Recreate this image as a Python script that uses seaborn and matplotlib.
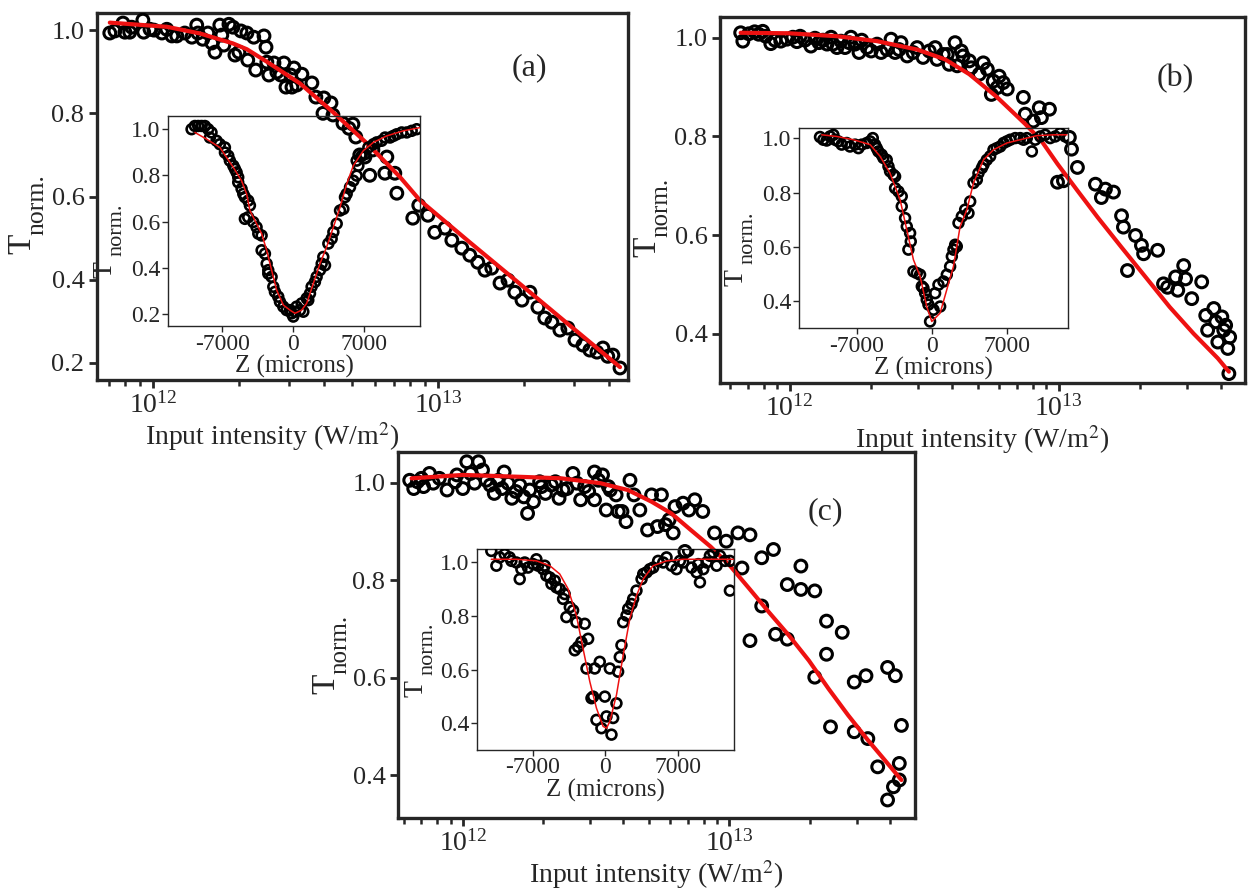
import numpy as np
import pandas as pd
import seaborn as sns
import matplotlib.pyplot as plt
from matplotlib.ticker import LogLocator, NullFormatter, FixedLocator

# ---- data (intensity as log10 of W/m^2) ----
# panel (a)
a_log_int = [11.849, 11.867, 11.895, 11.902, 11.919, 11.926, 11.965, 11.968, 11.990, 12.004,
             12.032, 12.049, 12.067, 12.084, 12.112, 12.137, 12.154, 12.158, 12.175, 12.193,
             12.207, 12.218, 12.235, 12.242, 12.249, 12.267, 12.281, 12.288, 12.302, 12.309,
             12.330, 12.333, 12.354, 12.361, 12.390, 12.397, 12.400, 12.407, 12.425, 12.435,
             12.449, 12.460, 12.467, 12.484, 12.488, 12.495, 12.505, 12.523, 12.558, 12.572,
             12.597, 12.600, 12.625, 12.632, 12.667, 12.688, 12.702, 12.712, 12.726, 12.744,
             12.761, 12.772, 12.814, 12.821, 12.849, 12.856, 12.912, 12.933, 12.965, 12.989,
             13.025, 13.049, 13.084, 13.112, 13.140, 13.165, 13.189, 13.218, 13.246, 13.270,
             13.295, 13.323, 13.351, 13.375, 13.400, 13.428, 13.456, 13.481, 13.509, 13.533,
             13.558, 13.579, 13.596, 13.614, 13.639]
a_trans = [0.993, 0.998, 1.017, 0.995, 0.995, 1.007, 1.024, 0.995, 1.002, 1.000,
           0.993, 1.002, 0.986, 0.986, 0.993, 0.983, 1.012, 0.993, 0.978, 0.993,
           0.969, 0.947, 1.012, 0.988, 0.964, 1.014, 1.007, 0.940, 0.947, 0.998,
           0.993, 0.928, 0.983, 0.904, 0.986, 0.959, 0.923, 0.892, 0.921, 0.899,
           0.892, 0.921, 0.863, 0.892, 0.863, 0.909, 0.868, 0.894, 0.873, 0.839,
           0.800, 0.837, 0.825, 0.796, 0.776, 0.764, 0.774, 0.743, 0.700, 0.695,
           0.651, 0.712, 0.656, 0.695, 0.656, 0.608, 0.548, 0.579, 0.555, 0.514,
           0.524, 0.495, 0.476, 0.459, 0.442, 0.423, 0.428, 0.392, 0.399, 0.370,
           0.351, 0.370, 0.334, 0.308, 0.298, 0.279, 0.284, 0.255, 0.243, 0.231,
           0.226, 0.236, 0.216, 0.219, 0.188]
a_fit_log_int = [11.849, 12.049, 12.165, 12.281, 12.330, 12.400, 12.516, 12.632, 12.751,
                 12.867, 12.937, 13.112, 13.288, 13.463, 13.639]
a_fit_trans = [1.018, 1.008, 0.992, 0.968, 0.954, 0.924, 0.872, 0.803, 0.728,
               0.647, 0.591, 0.490, 0.390, 0.290, 0.190]

a_z = [-10060, -9730, -9400, -9070, -8740, -8410, -8080, -8240, -7580, -7250,
       -6750, -6750, -6420, -6260, -5920, -5760, -5590, -5430, -5430, -5100,
       -4930, -4770, -4440, -4270, -4770, -4440, -3940, -3610, -3440, -3110,
       -3110, -2780, -2610, -2450, -2450, -2120, -1950, -1790, -1460, -1290,
       -960, -630, -300, -130, 30, 200, 360, 700, 860, 1030,
       1360, 1520, 1690, 1850, 2180, 2350, 2680, 2850, 3010, 3180,
       3510, 3840, 4010, 4340, 4670, 5000, 5160, 5330, 5660, 5990,
       6320, 6320, 6490, 6820, 7150, 7480, 7980, 8310, 8800, 9140,
       9630, 9960, 10290, 10790, 11290, 11780, 12280]
a_z_trans = [1.000, 1.014, 1.014, 1.014, 1.014, 1.000, 0.986, 0.964, 0.950, 0.935,
             0.921, 0.899, 0.885, 0.864, 0.842, 0.828, 0.813, 0.792, 0.770, 0.742,
             0.720, 0.706, 0.691, 0.670, 0.612, 0.619, 0.598, 0.576, 0.548, 0.540,
             0.476, 0.461, 0.418, 0.390, 0.375, 0.361, 0.318, 0.296, 0.275, 0.253,
             0.232, 0.217, 0.217, 0.203, 0.189, 0.210, 0.232, 0.217, 0.246, 0.210,
             0.268, 0.260, 0.289, 0.318, 0.339, 0.361, 0.390, 0.418, 0.447, 0.411,
             0.505, 0.526, 0.555, 0.591, 0.648, 0.655, 0.706, 0.720, 0.749, 0.777,
             0.799, 0.864, 0.842, 0.885, 0.892, 0.921, 0.935, 0.943, 0.950, 0.964,
             0.964, 0.971, 0.978, 0.986, 0.986, 0.993, 1.000]
a_z_fit = [-9730, -8570, -7250, -6590, -5920, -5100, -4600, -4270, -3610, -3110,
           -2610, -2120, -1620, -960, -300, 200, 860, 1360, 2020, 2680,
           3340, 4010, 4670, 5330, 5990, 6980, 7980, 9300, 10960, 12610]
a_z_fit_trans = [0.986, 0.957, 0.921, 0.878, 0.835, 0.777, 0.720, 0.648, 0.591, 0.548,
                 0.476, 0.390, 0.304, 0.239, 0.217, 0.203, 0.217, 0.246, 0.332, 0.418,
                 0.490, 0.576, 0.662, 0.763, 0.842, 0.907, 0.943, 0.971, 0.993, 1.007]

# panel (b)
b_log_int = [11.818, 11.826, 11.848, 11.870, 11.885, 11.900, 11.911, 11.930, 11.945, 11.967,
             11.990, 12.012, 12.027, 12.039, 12.057, 12.079, 12.094, 12.109, 12.124, 12.139,
             12.154, 12.161, 12.176, 12.191, 12.206, 12.221, 12.228, 12.243, 12.258, 12.268,
             12.288, 12.303, 12.325, 12.340, 12.362, 12.377, 12.392, 12.407, 12.414, 12.437,
             12.459, 12.474, 12.496, 12.519, 12.541, 12.548, 12.571, 12.586, 12.593, 12.615,
             12.623, 12.638, 12.645, 12.668, 12.675, 12.705, 12.720, 12.735, 12.750, 12.757,
             12.772, 12.779, 12.794, 12.809, 12.869, 12.876, 12.906, 12.928, 12.936, 12.966,
             12.996, 13.018, 13.040, 13.048, 13.070, 13.137, 13.159, 13.174, 13.204, 13.234,
             13.241, 13.256, 13.286, 13.308, 13.316, 13.368, 13.390, 13.405, 13.435, 13.443,
             13.465, 13.472, 13.495, 13.532, 13.547, 13.554, 13.577, 13.584, 13.592, 13.607,
             13.614, 13.621, 13.629, 13.636, 13.633]
b_trans = [1.010, 0.993, 1.008, 1.012, 1.007, 1.013, 1.003, 0.988, 0.995, 0.993,
           0.997, 1.001, 0.992, 1.003, 0.995, 0.983, 0.999, 0.990, 0.995, 0.987,
           1.001, 0.987, 0.980, 0.993, 0.980, 0.990, 1.001, 0.987, 0.970, 0.995,
           0.980, 0.973, 0.987, 0.970, 0.976, 0.997, 0.970, 0.976, 0.990, 0.963,
           0.970, 0.980, 0.960, 0.973, 0.980, 0.956, 0.966, 0.966, 0.946, 0.990,
           0.943, 0.973, 0.963, 0.953, 0.939, 0.926, 0.949, 0.936, 0.885, 0.912,
           0.899, 0.922, 0.909, 0.896, 0.879, 0.845, 0.831, 0.858, 0.838, 0.855,
           0.707, 0.710, 0.798, 0.774, 0.737, 0.703, 0.676, 0.693, 0.687, 0.639,
           0.616, 0.528, 0.599, 0.579, 0.562, 0.569, 0.501, 0.494, 0.515, 0.488,
           0.538, 0.511, 0.471, 0.505, 0.437, 0.407, 0.451, 0.424, 0.383, 0.434,
           0.407, 0.417, 0.370, 0.393, 0.319]
b_fit_log_int = [11.818, 11.997, 12.176, 12.325, 12.474, 12.578, 12.668, 12.772, 12.876,
                 12.936, 12.996, 13.070, 13.145, 13.234, 13.323, 13.413, 13.502, 13.592, 13.633]
b_fit_trans = [1.010, 1.009, 1.003, 0.993, 0.976, 0.956, 0.926, 0.879, 0.825,
               0.791, 0.744, 0.690, 0.636, 0.575, 0.515, 0.454, 0.400, 0.350, 0.323]

b_z = [-10420, -10110, -9800, -9490, -9170, -9020, -8710, -8400, -7930, -7620,
       -7150, -6840, -6530, -6060, -5750, -5500, -5290, -5130, -4980, -4670,
       -4510, -4200, -4040, -3890, -3580, -3420, -3420, -3110, -2800, -2800,
       -2490, -2330, -2020, -1960, -2180, -1710, -1400, -1090, -930, -780,
       -620, -470, -310, -160, 160, 310, 620, 780, 1090, 1400,
       1710, 1870, 2020, 2180, 2330, 2490, 2800, 3110, 3420, 3580,
       3890, 4200, 4350, 4670, 4820, 5130, 5440, 5750, 6060, 6380,
       6690, 7000, 7310, 7780, 8240, 8550, 8860, 9330, 9640, 10110,
       10570, 11040, 11510, 11970, 12440]
b_z_trans = [1.004, 0.994, 0.991, 1.006, 1.012, 0.994, 0.988, 0.976, 0.982, 0.969,
             0.976, 0.963, 0.976, 0.982, 0.988, 1.000, 0.976, 0.963, 0.951, 0.939,
             0.927, 0.920, 0.896, 0.878, 0.865, 0.859, 0.816, 0.804, 0.786, 0.749,
             0.706, 0.675, 0.651, 0.620, 0.590, 0.510, 0.504, 0.498, 0.455, 0.449,
             0.430, 0.406, 0.388, 0.326, 0.369, 0.430, 0.461, 0.381, 0.473, 0.498,
             0.528, 0.565, 0.590, 0.608, 0.602, 0.688, 0.712, 0.737, 0.724, 0.767,
             0.835, 0.847, 0.871, 0.890, 0.902, 0.920, 0.933, 0.957, 0.963, 0.969,
             0.982, 0.988, 0.994, 1.000, 1.000, 0.994, 1.000, 0.951, 0.994, 1.006,
             1.012, 1.000, 1.006, 1.018, 1.006]
b_z_fit = [-10260, -8860, -7310, -5750, -4820, -3890, -2950, -2330, -1710, -1090,
           -470, 0, 780, 1400, 2020, 2640, 3270, 3890, 4820, 5750,
           7000, 8240, 9800, 11350, 12600]
b_z_fit_trans = [1.012, 1.006, 0.994, 0.976, 0.933, 0.871, 0.773, 0.663, 0.553, 0.492,
                 0.381, 0.326, 0.357, 0.443, 0.528, 0.675, 0.737, 0.835, 0.920, 0.957,
                 0.982, 0.994, 1.009, 1.012, 1.012]

# panel (c)
c_log_int = [11.801, 11.816, 11.830, 11.845, 11.853, 11.875, 11.889, 11.912, 11.941, 11.971,
             11.978, 12.000, 12.015, 12.029, 12.044, 12.059, 12.074, 12.088, 12.103, 12.118,
             12.133, 12.147, 12.155, 12.170, 12.184, 12.199, 12.214, 12.229, 12.243, 12.251,
             12.265, 12.288, 12.295, 12.310, 12.332, 12.347, 12.361, 12.376, 12.391, 12.413,
             12.428, 12.442, 12.457, 12.472, 12.494, 12.494, 12.509, 12.524, 12.538, 12.546,
             12.553, 12.575, 12.583, 12.597, 12.612, 12.627, 12.642, 12.664, 12.693, 12.708,
             12.730, 12.745, 12.760, 12.774, 12.789, 12.796, 12.826, 12.833, 12.848, 12.870,
             12.900, 12.944, 12.988, 13.032, 13.047, 13.077, 13.077, 13.121, 13.121, 13.165,
             13.173, 13.217, 13.217, 13.268, 13.268, 13.320, 13.320, 13.364, 13.364, 13.379,
             13.423, 13.468, 13.468, 13.512, 13.519, 13.556, 13.593, 13.593, 13.615, 13.622,
             13.637, 13.637, 13.645]
c_trans = [1.005, 0.988, 1.002, 1.009, 0.992, 1.019, 0.999, 1.009, 0.985, 1.002,
           1.016, 0.988, 1.043, 1.019, 0.999, 1.043, 1.026, 1.005, 0.995, 0.978,
           1.005, 0.988, 1.022, 0.999, 0.968, 0.982, 0.995, 0.971, 0.937, 0.985,
           0.961, 1.002, 0.992, 0.978, 0.995, 1.002, 0.968, 0.985, 0.988, 1.019,
           0.999, 0.965, 0.992, 0.982, 1.022, 0.965, 1.005, 1.016, 0.944, 0.992,
           0.985, 0.975, 0.941, 0.941, 0.920, 1.005, 0.975, 0.944, 0.903, 0.975,
           0.910, 0.975, 0.914, 0.924, 0.897, 0.951, 0.958, 0.859, 0.944, 0.965,
           0.941, 0.897, 0.880, 0.897, 0.825, 0.893, 0.676, 0.846, 0.747, 0.863,
           0.689, 0.791, 0.679, 0.829, 0.781, 0.778, 0.601, 0.716, 0.648, 0.499,
           0.693, 0.591, 0.489, 0.604, 0.475, 0.417, 0.621, 0.349, 0.376, 0.604,
           0.424, 0.390, 0.502]
c_fit_log_int = [11.808, 12.000, 12.221, 12.369, 12.516, 12.619, 12.708, 12.782, 12.855,
                 12.929, 13.003, 13.077, 13.150, 13.224, 13.298, 13.372, 13.445, 13.519,
                 13.593, 13.645]
c_fit_trans = [1.009, 1.016, 1.012, 1.009, 0.999, 0.985, 0.961, 0.937, 0.903,
               0.869, 0.829, 0.781, 0.733, 0.686, 0.635, 0.577, 0.523, 0.472,
               0.424, 0.390]

c_z = [-11010, -10520, -10200, -9720, -9240, -9070, -8590, -8270, -8110, -7790,
       -7470, -6980, -6660, -6500, -6020, -5860, -5700, -5370, -5210, -4890,
       -4730, -4410, -4090, -3930, -3770, -3440, -3120, -2800, -2960, -2640,
       -2320, -2000, -1830, -1670, -1350, -1190, -1030, -870, -550, -390,
       -60, 100, 420, 580, 740, 1060, 1220, 1380, 1540, 1710,
       2030, 2190, 2510, 2670, 2990, 3480, 3640, 3960, 4280, 4600,
       5080, 5570, 5890, 6370, 6850, 7180, 7500, 7980, 8300, 8790,
       8950, 9110, 9430, 9750, 10070, 10390, 10720, 11040, 11520, 12000,
       12000]
c_z_trans = [1.043, 0.988, 1.019, 1.031, 1.019, 1.006, 1.000, 0.938, 0.975, 1.000,
             0.981, 0.994, 1.012, 0.988, 0.975, 0.988, 0.951, 0.944, 0.920, 0.932,
             0.907, 0.901, 0.864, 0.882, 0.796, 0.833, 0.821, 0.777, 0.672, 0.685,
             0.703, 0.771, 0.604, 0.715, 0.493, 0.499, 0.604, 0.412, 0.629, 0.381,
             0.499, 0.425, 0.604, 0.357, 0.419, 0.474, 0.592, 0.647, 0.691, 0.777,
             0.802, 0.827, 0.845, 0.864, 0.895, 0.938, 0.957, 0.963, 0.975, 0.981,
             1.006, 1.000, 1.019, 0.988, 0.975, 1.006, 1.000, 1.043, 0.981, 0.963,
             0.994, 0.926, 0.975, 1.000, 1.025, 1.037, 0.988, 1.025, 1.006, 0.895,
             1.006]
c_z_fit = [-11010, -8590, -6660, -5370, -4410, -3600, -2800, -2160, -1510, -870,
           -230, 100, 420, 1060, 1710, 2350, 2990, 3640, 4600, 5890,
           7500, 10070, 12330]
c_z_fit_trans = [1.012, 1.012, 1.006, 0.988, 0.957, 0.901, 0.802, 0.678, 0.555, 0.456,
                 0.388, 0.381, 0.406, 0.505, 0.654, 0.790, 0.876, 0.938, 0.988, 1.006,
                 1.012, 1.012, 1.012]

# ---- style ----
sns.set_style("ticks")
plt.rcParams['font.family'] = ['Liberation Serif', 'DejaVu Serif']
plt.rcParams['mathtext.fontset'] = 'stix'

W, H = 1248, 894
fig = plt.figure(figsize=(W / 100, H / 100), dpi=100)


def tnorm(t_xy, n_xy, big, small):
    # "T" with a large "norm." subscript, rotated like a y label (pixel positions)
    fig.text(t_xy[0] / W, 1 - t_xy[1] / H, 'T', rotation=90, fontsize=big,
             ha='center', va='center')
    fig.text(n_xy[0] / W, 1 - n_xy[1] / H, 'norm.', rotation=90, fontsize=small,
             ha='center', va='center')


def main_panel(rect, log_int, trans, fit_log, fit_trans, xlim, ylim, yticks, tag, tag_xy,
               xlabel_x=0.5):
    ax = fig.add_axes(rect)
    ax.set_xscale('log')
    df = pd.DataFrame({'I': 10 ** np.array(log_int), 'T': trans})
    sns.scatterplot(data=df, x='I', y='T', ax=ax, marker='o', s=72,
                    facecolors='none', edgecolor='black', linewidth=2.2, zorder=3)
    fit = pd.DataFrame({'I': 10 ** np.array(fit_log), 'T': fit_trans})
    sns.lineplot(data=fit, x='I', y='T', ax=ax, color='#ee1111', linewidth=3.0,
                 sort=False, estimator=None, zorder=4)
    ax.set_xlim(10 ** xlim[0], 10 ** xlim[1])
    ax.set_ylim(*ylim)
    ax.yaxis.set_major_locator(FixedLocator(yticks))
    ax.set_yticklabels([f'{v:.1f}' for v in yticks])
    ax.xaxis.set_major_locator(LogLocator(base=10, numticks=10))
    ax.xaxis.set_minor_locator(LogLocator(base=10, subs=np.arange(2, 10), numticks=50))
    ax.xaxis.set_minor_formatter(NullFormatter())
    for sp in ax.spines.values():
        sp.set_linewidth(2.4)
        sp.set_visible(True)
    ax.tick_params(axis='both', which='major', direction='out', length=6, width=2.0,
                   top=False, right=False)
    ax.tick_params(axis='y', labelsize=19, pad=3)
    ax.tick_params(axis='x', labelsize=20, pad=3)
    ax.tick_params(axis='x', which='minor', direction='out', length=4, width=1.8,
                   top=False)
    ax.set_xlabel('Input intensity (W/m$^2$)', fontsize=20, labelpad=1, x=xlabel_x)
    ax.set_ylabel('')
    ax.text(tag_xy[0], tag_xy[1], tag, transform=ax.transAxes, fontsize=23,
            ha='center', va='center')
    return ax


def inset_panel(rect, z, trans, fit_z, fit_trans, xlim, ylim, yticks):
    ax = fig.add_axes(rect)
    ax.set_facecolor('none')
    df = pd.DataFrame({'Z': z, 'T': trans})
    sns.scatterplot(data=df, x='Z', y='T', ax=ax, marker='o', s=50,
                    facecolors='none', edgecolor='black', linewidth=1.9, zorder=3)
    fit = pd.DataFrame({'Z': fit_z, 'T': fit_trans})
    sns.lineplot(data=fit, x='Z', y='T', ax=ax, color='#ee1111', linewidth=1.1,
                 sort=False, estimator=None, zorder=4)
    ax.set_xlim(*xlim)
    ax.set_ylim(*ylim)
    ax.xaxis.set_major_locator(FixedLocator([-7000, 0, 7000]))
    ax.set_xticklabels(['-7000', '0', '7000'])
    ax.yaxis.set_major_locator(FixedLocator(yticks))
    ax.set_yticklabels([f'{v:.1f}' for v in yticks])
    for sp in ax.spines.values():
        sp.set_linewidth(1.0)
        sp.set_visible(True)
    ax.tick_params(axis='both', which='major', direction='out', length=4, width=1.0,
                   labelsize=17, pad=1.5)
    ax.set_xlabel('Z (microns)', fontsize=18, labelpad=0.5)
    ax.set_ylabel('')
    return ax


main_panel([0.0777, 0.5749, 0.4255, 0.4105], a_log_int, a_trans, a_fit_log_int, a_fit_trans,
           (11.804, 13.667), (0.159, 1.041), [0.2, 0.4, 0.6, 0.8, 1.0], '(a)', (0.815, 0.85),
           xlabel_x=0.33)
inset_panel([0.1346, 0.6353, 0.2019, 0.2349], a_z, a_z_trans, a_z_fit, a_z_fit_trans,
            (-12400, 12600), (0.148, 1.057), [0.2, 0.4, 0.6, 0.8, 1.0])
tnorm((22, 244), (37, 205), 24, 18.5)
tnorm((105, 270), (117, 230), 20, 16)

main_panel([0.5769, 0.5716, 0.4207, 0.4094], b_log_int, b_trans, b_fit_log_int, b_fit_trans,
           (11.741, 13.693), (0.300, 1.042), [0.4, 0.6, 0.8, 1.0], '(b)', (0.867, 0.833))
inset_panel([0.6402, 0.6331, 0.2155, 0.2237], b_z, b_z_trans, b_z_fit, b_z_fit_trans,
            (-12380, 12690), (0.302, 1.037), [0.4, 0.6, 0.8, 1.0])
tnorm((647, 247), (661, 207), 24, 18)
tnorm((736, 278), (748, 238), 20, 16)

main_panel([0.3189, 0.0850, 0.4143, 0.4094], c_log_int, c_trans, c_fit_log_int, c_fit_trans,
           (11.757, 13.696), (0.312, 1.063), [0.4, 0.6, 0.8, 1.0], '(c)', (0.826, 0.838))
inset_panel([0.3822, 0.1615, 0.2059, 0.2240], c_z, c_z_trans, c_z_fit, c_z_fit_trans,
            (-12390, 12390), (0.301, 1.049), [0.4, 0.6, 0.8, 1.0])
tnorm((326, 684), (340, 644), 24, 18)
tnorm((416, 689), (428, 649), 20, 16)

fig.savefig('out.png', dpi=100, facecolor='white')
